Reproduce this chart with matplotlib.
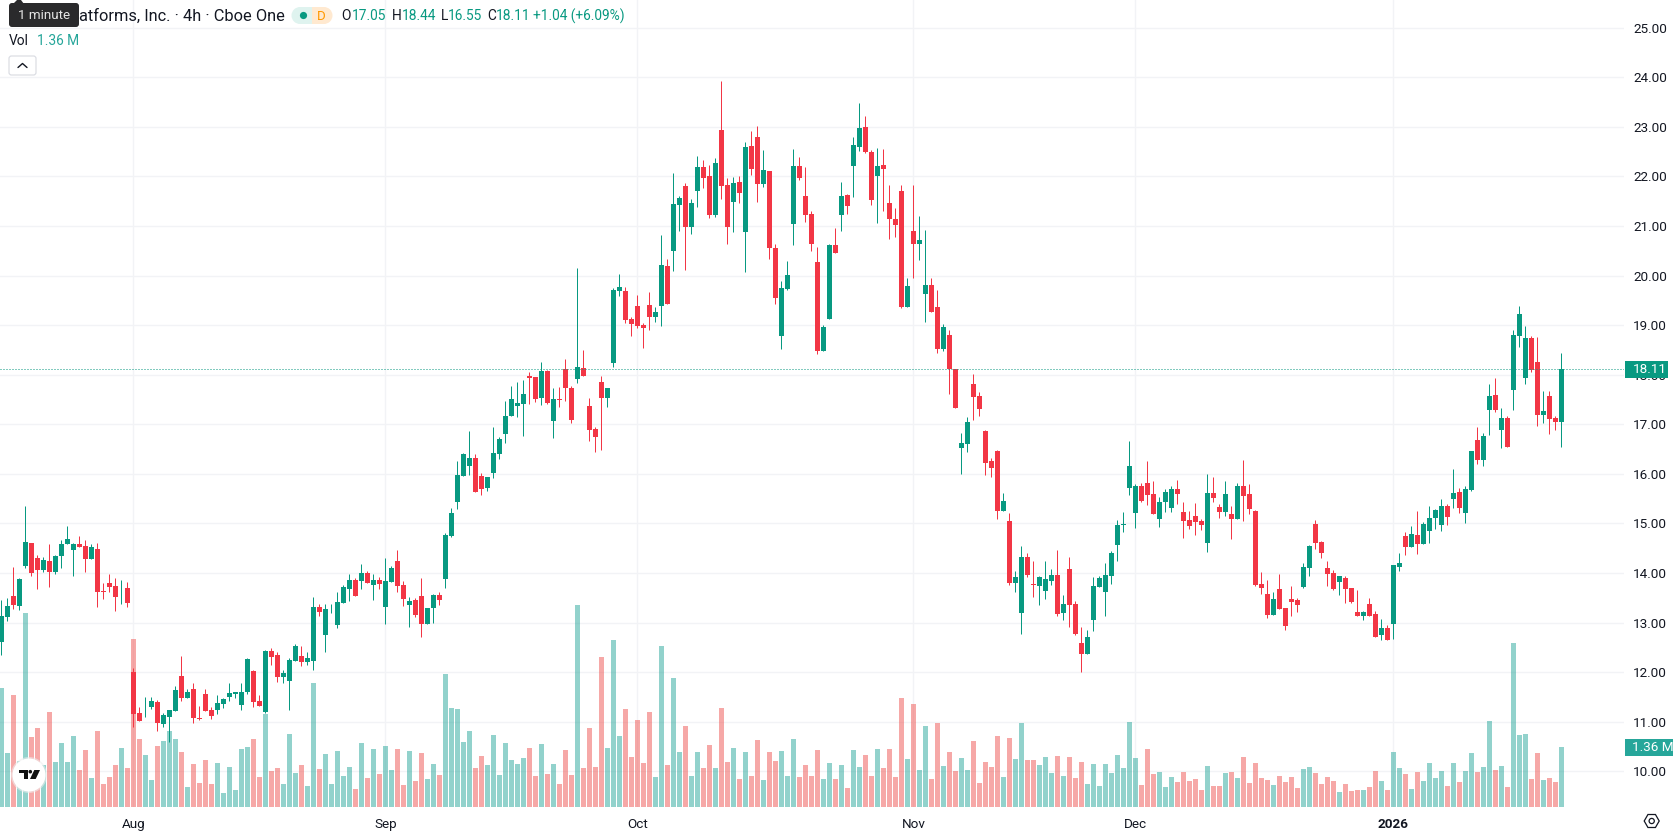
import matplotlib
matplotlib.use("Agg")
import matplotlib.pyplot as plt
from matplotlib.patches import Circle, FancyBboxPatch, Polygon, Rectangle, RegularPolygon, Wedge

plt.rcParams['font.family'] = ['Roboto', 'DejaVu Sans']

# 4h bars, oldest first
opens = [
    12.60, 13.12, 13.54, 13.34, 14.15, 14.61, 14.31, 14.07, 14.25, 14.03,
    14.35, 14.59, 14.47, 14.59, 14.55, 14.29, 14.49, 13.64, 13.80, 13.74,
    13.69, 13.70, 12.00, 11.17, 11.29, 11.29, 11.39, 10.95, 11.09, 11.21,
    11.92, 11.47, 11.67, 11.08, 11.55, 11.23, 11.23, 11.35, 11.49, 11.55,
    11.33, 11.59, 12.02, 11.41, 11.19, 12.42, 12.34, 11.90, 11.83, 12.22,
    12.32, 12.20, 12.22, 13.31, 12.75, 13.25, 12.96, 13.39, 13.67, 13.85,
    13.83, 14.01, 13.75, 13.85, 13.32, 13.81, 14.25, 13.75, 13.36, 13.45,
    13.53, 12.98, 13.30, 13.55, 13.87, 14.74, 15.44, 15.95, 16.15, 16.33,
    15.95, 15.71, 16.01, 16.41, 16.80, 17.16, 17.36, 17.42, 17.97, 17.95,
    17.54, 18.07, 17.06, 17.52, 18.11, 17.73, 17.91, 18.13, 17.36, 16.90,
    17.85, 17.54, 18.23, 19.68, 19.68, 19.12, 19.38, 19.00, 19.40, 19.17,
    19.38, 20.20, 20.50, 21.43, 21.81, 20.99, 21.71, 22.19, 22.01, 21.23,
    22.94, 21.83, 21.49, 21.89, 20.87, 22.62, 22.80, 21.85, 22.11, 20.56,
    18.79, 19.72, 21.05, 22.21, 21.61, 21.25, 20.28, 18.47, 19.13, 20.62,
    21.23, 21.63, 22.21, 22.60, 23.00, 22.50, 22.01, 22.23, 21.47, 21.15,
    21.71, 19.36, 20.91, 20.64, 19.62, 19.82, 19.36, 18.51, 18.81, 18.11,
    16.53, 16.61, 17.82, 17.58, 16.86, 16.25, 16.47, 15.26, 15.04, 13.80,
    13.20, 14.33, 13.78, 13.74, 13.64, 13.84, 13.97, 13.20, 14.09, 13.38,
    12.59, 12.37, 13.06, 13.72, 13.62, 13.95, 14.57, 14.96, 15.72, 15.22,
    15.76, 15.82, 15.60, 15.10, 15.44, 15.32, 15.70, 15.24, 15.06, 15.16,
    15.04, 14.61, 15.62, 15.34, 15.24, 15.20, 15.10, 15.76, 15.60, 15.26,
    13.78, 13.57, 13.15, 13.67, 13.29, 13.47, 13.45, 13.71, 14.10, 14.99,
    14.62, 14.10, 14.00, 13.81, 13.90, 13.69, 13.21, 13.13, 13.37, 13.17,
    12.74, 12.89, 12.97, 14.12, 14.74, 14.52, 14.76, 14.58, 14.85, 15.11,
    14.97, 15.35, 15.49, 15.63, 15.21, 15.67, 16.68, 16.28, 17.29, 17.59,
    16.89, 17.13, 17.69, 18.78, 17.94, 18.74, 18.26, 17.19, 17.57, 17.13,
    17.05,
]
highs = [
    13.46, 13.50, 14.13, 13.89, 15.36, 14.61, 14.37, 14.33, 14.59, 14.37,
    14.67, 14.94, 14.61, 14.75, 14.67, 14.59, 14.61, 13.80, 13.99, 13.89,
    13.85, 13.82, 12.08, 11.29, 11.49, 11.49, 11.43, 11.17, 11.23, 11.73,
    12.32, 11.67, 11.79, 11.31, 11.67, 11.29, 11.53, 11.47, 11.79, 11.61,
    11.79, 12.28, 12.04, 11.53, 12.44, 12.48, 12.40, 12.04, 12.28, 12.56,
    12.52, 12.40, 13.52, 13.37, 13.37, 13.38, 13.61, 13.75, 13.99, 13.89,
    14.19, 14.05, 13.99, 13.91, 14.31, 14.15, 14.47, 13.83, 13.51, 13.49,
    13.89, 13.30, 13.57, 13.61, 14.80, 15.32, 16.27, 16.43, 16.86, 16.41,
    16.01, 15.93, 16.94, 16.74, 17.48, 17.77, 17.85, 17.89, 18.05, 17.95,
    18.25, 18.09, 17.73, 17.75, 18.31, 17.77, 20.15, 18.49, 17.54, 16.94,
    17.97, 17.73, 19.74, 20.03, 19.78, 19.16, 19.60, 19.04, 19.66, 19.36,
    20.81, 20.34, 22.07, 21.61, 21.87, 21.55, 22.42, 22.34, 22.23, 22.38,
    23.93, 21.97, 21.99, 22.01, 22.70, 22.92, 23.02, 22.54, 22.11, 20.64,
    19.90, 20.30, 22.56, 22.40, 22.19, 21.31, 20.58, 19.01, 20.64, 20.97,
    21.89, 21.65, 22.80, 23.48, 23.22, 22.54, 22.58, 22.56, 21.83, 21.37,
    21.83, 19.96, 21.83, 21.21, 20.93, 19.96, 19.70, 19.03, 18.91, 18.12,
    16.83, 17.14, 18.01, 17.66, 16.88, 16.33, 16.49, 15.62, 15.22, 14.05,
    14.55, 14.41, 14.25, 13.93, 14.25, 14.09, 14.47, 13.56, 14.33, 13.44,
    12.92, 12.86, 13.91, 13.93, 14.21, 14.45, 15.06, 15.24, 16.67, 15.80,
    15.82, 16.27, 15.85, 15.54, 15.70, 15.76, 15.87, 15.44, 15.26, 15.42,
    15.08, 15.99, 15.93, 15.40, 15.85, 15.36, 15.82, 16.29, 15.80, 15.28,
    14.03, 13.86, 13.61, 13.98, 13.29, 13.73, 13.49, 14.20, 14.56, 15.07,
    14.64, 14.24, 14.06, 13.94, 13.94, 13.69, 13.65, 13.23, 13.49, 13.23,
    13.07, 12.95, 14.16, 14.40, 14.82, 14.95, 15.25, 15.03, 15.35, 15.29,
    15.49, 15.39, 16.10, 15.71, 15.75, 16.46, 16.95, 16.82, 17.81, 17.94,
    17.33, 17.17, 18.91, 19.39, 18.99, 18.78, 18.76, 17.67, 17.67, 17.17,
    18.44,
]
lows = [
    12.35, 13.04, 13.28, 13.26, 14.11, 13.95, 13.68, 14.03, 13.72, 13.99,
    14.11, 14.59, 13.93, 14.53, 14.03, 14.29, 13.32, 13.48, 13.62, 13.24,
    13.38, 13.32, 10.89, 11.01, 11.09, 11.25, 10.82, 10.89, 10.60, 11.21,
    11.41, 11.47, 10.97, 11.03, 11.21, 11.05, 11.15, 11.27, 11.41, 11.47,
    11.23, 11.55, 11.29, 11.31, 11.17, 12.14, 11.81, 11.79, 11.23, 12.22,
    12.12, 12.14, 12.04, 13.13, 12.40, 13.20, 12.90, 13.39, 13.43, 13.53,
    13.67, 13.79, 13.45, 13.67, 12.98, 13.81, 13.61, 13.34, 12.92, 13.12,
    12.70, 12.98, 13.00, 13.36, 13.69, 14.72, 15.30, 15.95, 15.97, 15.63,
    15.57, 15.65, 15.91, 16.31, 16.62, 17.16, 17.14, 16.76, 17.42, 17.46,
    17.38, 17.42, 16.72, 17.34, 17.48, 17.02, 17.83, 17.97, 16.66, 16.45,
    16.49, 17.34, 18.15, 19.58, 19.04, 18.78, 18.94, 18.53, 18.91, 19.07,
    18.99, 19.42, 20.10, 20.91, 20.12, 20.83, 21.39, 21.77, 21.17, 21.19,
    21.55, 20.64, 20.87, 21.47, 20.08, 22.03, 21.49, 21.79, 20.34, 19.42,
    18.51, 19.70, 20.62, 21.93, 21.09, 20.50, 18.41, 18.47, 19.13, 20.46,
    20.91, 21.25, 21.59, 22.52, 22.48, 21.43, 21.07, 21.31, 20.74, 20.77,
    19.34, 19.36, 19.96, 20.32, 19.07, 19.26, 18.43, 18.47, 17.62, 17.32,
    15.99, 16.45, 17.08, 17.16, 15.97, 15.93, 15.10, 15.26, 13.76, 13.62,
    12.77, 13.91, 13.52, 13.36, 13.48, 13.76, 13.14, 13.06, 12.92, 12.75,
    12.01, 12.37, 12.83, 13.72, 13.14, 13.78, 14.25, 14.83, 15.58, 14.90,
    15.44, 15.38, 15.20, 14.92, 15.24, 15.24, 15.40, 14.71, 14.88, 14.77,
    14.86, 14.43, 15.44, 15.12, 15.16, 14.69, 15.08, 15.04, 15.20, 13.74,
    13.58, 13.09, 13.15, 13.27, 12.85, 13.13, 13.21, 13.69, 13.94, 14.48,
    14.30, 13.73, 13.65, 13.55, 13.39, 13.39, 13.13, 13.05, 13.13, 12.70,
    12.64, 12.64, 12.66, 14.04, 14.36, 14.52, 14.38, 14.58, 14.60, 14.89,
    14.85, 14.97, 15.31, 15.21, 15.01, 15.65, 16.20, 16.16, 16.78, 17.25,
    16.52, 16.54, 17.29, 18.56, 17.81, 18.06, 16.97, 17.03, 16.80, 16.89,
    16.55,
]
closes = [
    13.14, 13.34, 13.36, 13.87, 14.63, 14.01, 14.07, 14.27, 14.03, 14.35,
    14.59, 14.69, 14.59, 14.53, 14.29, 14.53, 13.62, 13.62, 13.72, 13.52,
    13.70, 13.40, 11.15, 11.01, 11.30, 11.41, 10.97, 11.13, 11.23, 11.65,
    11.47, 11.61, 11.07, 11.06, 11.21, 11.11, 11.37, 11.45, 11.57, 11.59,
    11.61, 12.26, 11.39, 11.31, 12.42, 12.30, 11.90, 11.98, 12.24, 12.52,
    12.20, 12.28, 13.31, 13.21, 13.27, 13.26, 13.41, 13.71, 13.85, 13.53,
    14.01, 13.79, 13.85, 13.77, 13.83, 14.11, 13.73, 13.47, 13.43, 13.16,
    12.98, 13.30, 13.55, 13.45, 14.76, 15.22, 15.97, 16.41, 16.33, 15.63,
    15.69, 15.93, 16.43, 16.70, 17.16, 17.52, 17.44, 17.62, 17.93, 17.51,
    18.07, 17.44, 17.52, 17.50, 17.73, 17.08, 18.15, 17.97, 16.88, 16.74,
    17.54, 17.73, 19.70, 19.78, 19.10, 19.02, 18.98, 18.94, 19.17, 19.26,
    20.22, 19.42, 21.45, 21.57, 20.99, 21.47, 22.19, 21.97, 21.23, 22.28,
    21.81, 20.99, 21.87, 21.67, 22.60, 22.15, 21.85, 22.13, 20.56, 19.54,
    19.74, 20.02, 22.21, 21.97, 21.23, 20.64, 18.47, 18.97, 20.62, 20.46,
    21.61, 21.41, 22.64, 22.98, 22.50, 21.53, 22.21, 22.15, 21.15, 21.03,
    19.36, 19.80, 20.64, 20.72, 19.82, 19.26, 18.51, 18.97, 18.11, 17.32,
    16.63, 17.04, 17.56, 17.30, 16.21, 16.11, 15.26, 15.46, 13.80, 13.91,
    14.33, 13.97, 13.76, 13.91, 13.87, 13.97, 13.18, 13.38, 13.36, 12.77,
    12.37, 12.71, 13.74, 13.89, 13.97, 14.41, 14.96, 14.98, 16.15, 15.76,
    15.46, 15.58, 15.20, 15.44, 15.64, 15.70, 15.60, 15.04, 14.94, 15.02,
    14.96, 15.62, 15.52, 15.24, 15.60, 15.10, 15.76, 15.56, 15.30, 13.76,
    13.70, 13.15, 13.47, 13.27, 12.93, 13.41, 13.35, 14.12, 14.54, 14.60,
    14.40, 13.98, 13.67, 13.94, 13.67, 13.41, 13.13, 13.21, 13.13, 12.70,
    12.89, 12.64, 14.16, 14.20, 14.52, 14.78, 14.58, 14.99, 15.11, 15.27,
    15.35, 15.13, 15.61, 15.31, 15.69, 16.46, 16.28, 16.76, 17.57, 17.29,
    17.13, 16.54, 18.80, 19.23, 18.74, 18.10, 17.19, 17.27, 17.11, 17.05,
    18.11,
]
# volume in millions of shares
volumes = [
    2.70, 1.22, 2.54, 1.04, 4.40, 1.59, 1.79, 0.95, 2.15, 1.02,
    1.45, 1.02, 1.61, 0.84, 1.29, 0.66, 1.72, 0.52, 0.68, 0.95,
    1.34, 0.88, 3.81, 1.54, 1.18, 0.61, 1.38, 1.50, 1.72, 1.54,
    1.25, 0.45, 0.97, 0.54, 1.07, 0.52, 1.00, 0.32, 0.91, 0.39,
    1.31, 1.36, 1.54, 0.68, 2.11, 0.82, 0.88, 0.52, 1.65, 0.77,
    0.95, 0.48, 2.81, 0.86, 1.20, 0.52, 1.27, 0.70, 0.91, 0.41,
    1.45, 0.66, 1.31, 0.75, 1.38, 0.84, 1.31, 0.50, 1.27, 0.59,
    1.22, 0.63, 0.97, 0.73, 3.01, 2.24, 2.22, 1.47, 1.72, 0.88,
    1.16, 0.95, 1.63, 0.73, 1.45, 1.07, 0.97, 1.11, 1.34, 0.70,
    1.43, 0.75, 0.97, 0.52, 1.29, 0.73, 4.58, 0.88, 1.79, 0.91,
    3.40, 1.34, 3.79, 1.61, 2.22, 1.13, 1.97, 1.00, 2.15, 0.68,
    3.65, 0.95, 2.92, 1.25, 1.84, 0.70, 1.25, 0.88, 1.41, 0.88,
    2.24, 1.02, 1.34, 0.63, 1.25, 0.70, 1.52, 0.61, 1.25, 1.04,
    1.27, 0.70, 1.54, 0.68, 0.95, 0.70, 1.29, 0.63, 1.00, 0.63,
    0.95, 0.43, 1.29, 0.91, 1.18, 0.70, 1.31, 0.88, 1.31, 0.68,
    2.47, 1.09, 2.33, 0.84, 1.84, 0.63, 1.90, 0.93, 1.25, 0.82,
    1.11, 0.84, 1.50, 0.54, 1.02, 0.91, 1.61, 0.68, 1.56, 1.09,
    1.90, 1.07, 1.07, 0.95, 1.13, 0.77, 1.16, 0.70, 1.13, 0.66,
    1.02, 0.52, 0.97, 0.48, 0.97, 0.77, 1.18, 0.88, 1.93, 1.11,
    0.50, 1.31, 0.75, 0.79, 0.45, 0.68, 0.57, 0.79, 0.59, 0.63,
    0.39, 0.93, 0.48, 0.48, 0.77, 0.79, 0.66, 1.13, 0.54, 1.00,
    0.66, 0.61, 0.50, 0.70, 0.57, 0.68, 0.43, 0.86, 0.91, 0.77,
    0.52, 0.68, 0.59, 0.34, 0.52, 0.36, 0.39, 0.39, 0.45, 0.82,
    0.59, 0.39, 1.25, 0.88, 0.75, 0.41, 0.79, 0.59, 1.00, 0.66,
    0.82, 0.48, 1.00, 0.57, 0.82, 1.22, 0.79, 0.91, 1.95, 0.84,
    0.93, 0.45, 3.72, 1.63, 1.65, 0.63, 1.22, 0.61, 0.66, 0.57,
    1.36,
]
month_bars = [22, 64, 106, 152, 189, 232]
month_labels = ['Aug', 'Sep', 'Oct', 'Nov', 'Dec', '2026']
price_ticks = list(range(10, 26))
last_close = closes[-1]
last_volume = volumes[-1]

UP = '#089981'
DOWN = '#f23645'
VOL_UP = '#26a69a'
VOL_DOWN = '#ef5350'
GRID = '#f2f3f6'
INK = '#131722'

W, H = 1678, 835
PANE_W, PANE_H = 1624, 807

fig = plt.figure(figsize=(W / 100, H / 100), dpi=100, facecolor='white')
rect = [0, 1 - PANE_H / H, PANE_W / W, PANE_H / H]

# volume pane sits under the candles
ax_vol = fig.add_axes(rect, zorder=1)
ax = fig.add_axes(rect, zorder=2)
ax.patch.set_alpha(0)

xs = list(range(len(closes)))
xlim = (-1.33 / 6, (PANE_W - 1.33) / 6)
is_up = [c >= o for o, c in zip(opens, closes)]

ax_vol.set_xlim(xlim)
ax_vol.set_ylim(0, 18.29)
ax_vol.bar(xs, volumes, width=5 / 6, linewidth=0, alpha=0.5,
           color=[VOL_UP if u else VOL_DOWN for u in is_up], zorder=2)
ax_vol.set_yticks([])
ax_vol.set_xticks(month_bars)
ax_vol.set_xticklabels([])
ax_vol.tick_params(length=0)
ax_vol.grid(axis='x', color=GRID, lw=1.0)
ax_vol.set_axisbelow(True)
for s in ax_vol.spines.values():
    s.set_visible(False)

ax.set_xlim(xlim)
ax.set_ylim(9.28, 25.56)
# horizontal grid sits on the lower axes so it stays under the volume bars
for p in price_ticks:
    frac = (p - 9.28) / (25.56 - 9.28)
    ax_vol.axhline(frac * 18.29, color=GRID, lw=1.0, zorder=1)

colors = [UP if u else DOWN for u in is_up]
ax.vlines(xs, lows, highs, colors=colors, lw=0.72, zorder=3)
ax.bar(xs, [abs(c - o) for o, c in zip(opens, closes)],
       bottom=[min(o, c) for o, c in zip(opens, closes)],
       width=5 / 6, color=colors, linewidth=0, zorder=4)
ax.axhline(last_close, color=UP, lw=0.72, ls=(0, (1, 2)), zorder=5)

ax.yaxis.tick_right()
ax.set_yticks(price_ticks)
ax.set_yticklabels([f'{p}.00' for p in price_ticks], fontsize=9.7, color=INK)
ax.tick_params(axis='y', length=0, pad=6.5)
ax.set_xticks(month_bars)
ax.set_xticklabels(month_labels, fontsize=9.7, color=INK)
ax.tick_params(axis='x', length=0, pad=8)
ax.get_xticklabels()[-1].set_fontweight('bold')
for s in ax.spines.values():
    s.set_visible(False)

# interface elements, laid out in pixels
ui = fig.add_axes([0, 0, 1, 1], zorder=3)
ui.set_xlim(0, W)
ui.set_ylim(H, 0)
ui.axis('off')
ui.patch.set_alpha(0)

# last price and last volume tags on the scale
ui.add_patch(Rectangle((1625, 361), 43, 17, color=UP, lw=0))
ui.text(1632.5, 369.8, f'{last_close:.2f}', color='white', fontsize=9.7, va='center')
ui.add_patch(Rectangle((1625, 739), 48, 17, color=VOL_UP, lw=0))
ui.text(1632.5, 747.8, f'{last_volume:.2f} M', color='white', fontsize=9.7, va='center')

# settings icon
ui.add_patch(RegularPolygon((1651.7, 821), 6, radius=7.5, orientation=3.14159 / 6,
                            fill=False, ec=INK, lw=0.9))
ui.add_patch(Circle((1651.7, 821), 2.6, fill=False, ec=INK, lw=0.9))

# legend line
ui.text(79, 16, 'atforms, Inc. · 4h · Cboe One', fontsize=11.8, color=INK, va='center')
ui.add_patch(Wedge((300, 15.5), 8.5, 90, 270, color='#dff3ef', lw=0))
ui.add_patch(Rectangle((300, 7), 12, 17, color='#dff3ef', lw=0))
ui.add_patch(Rectangle((312, 7), 12, 17, color='#ffe9d0', lw=0))
ui.add_patch(Wedge((324, 15.5), 8.5, 270, 90, color='#ffe9d0', lw=0))
ui.add_patch(Circle((303.5, 15.5), 3.6, color=UP, lw=0))
ui.text(321, 16, 'D', fontsize=9.5, color='#ff9800', ha='center', va='center')

ohlc = [('O', 341, '17.05', 352), ('H', 392, '18.44', 402),
        ('L', 441, '16.55', 448), ('C', 487, '18.11', 496)]
for key, kx, val, vx in ohlc:
    ui.text(kx, 16, key, fontsize=9.9, color=INK, va='center')
    ui.text(vx, 16, val, fontsize=9.9, color=UP, va='center')
ui.text(533, 16, '+1.04 (+6.09%)', fontsize=9.9, color=UP, va='center')

ui.text(9, 41, 'Vol', fontsize=9.9, color=INK, va='center')
ui.text(37, 41, f'{last_volume:.2f} M', fontsize=9.9, color=VOL_UP, va='center')

# collapse button
ui.add_patch(FancyBboxPatch((9, 56), 27, 19, boxstyle='round,pad=0,rounding_size=2.5',
                            fc='white', ec='#d8dae0', lw=0.8))
ui.plot([18, 22.5, 27], [67.5, 63.5, 67.5], color=INK, lw=1.0, solid_capstyle='round')

# tooltip over the symbol name
ui.add_patch(Polygon([[13, 4], [17, 0], [21, 0], [24, 4]], color='#2a2a2c', lw=0))
ui.add_patch(FancyBboxPatch((9, 3), 70, 24, boxstyle='round,pad=0,rounding_size=3',
                            fc='#2a2a2c', ec='none'))
ui.text(44, 15.5, '1 minute', fontsize=9.6, color='#e6e6e6', ha='center', va='center')

# watermark badge
ui.add_patch(Circle((29, 775), 18, color='#eeeeee', alpha=0.6, lw=0))
ui.add_patch(Circle((29, 775), 16.5, color='white', lw=0))
ui.add_patch(Polygon([[19, 770], [27.7, 770], [27.7, 779], [23.7, 779], [23.7, 773.4], [19, 773.4]],
                     color='#111111', lw=0))
ui.add_patch(Circle((30.3, 771.7), 1.8, color='#111111', lw=0))
ui.add_patch(Polygon([[34.3, 770], [40, 770], [35.7, 779], [30, 779]], color='#111111', lw=0))

fig.savefig('out.png', dpi=100)
plt.close(fig)
